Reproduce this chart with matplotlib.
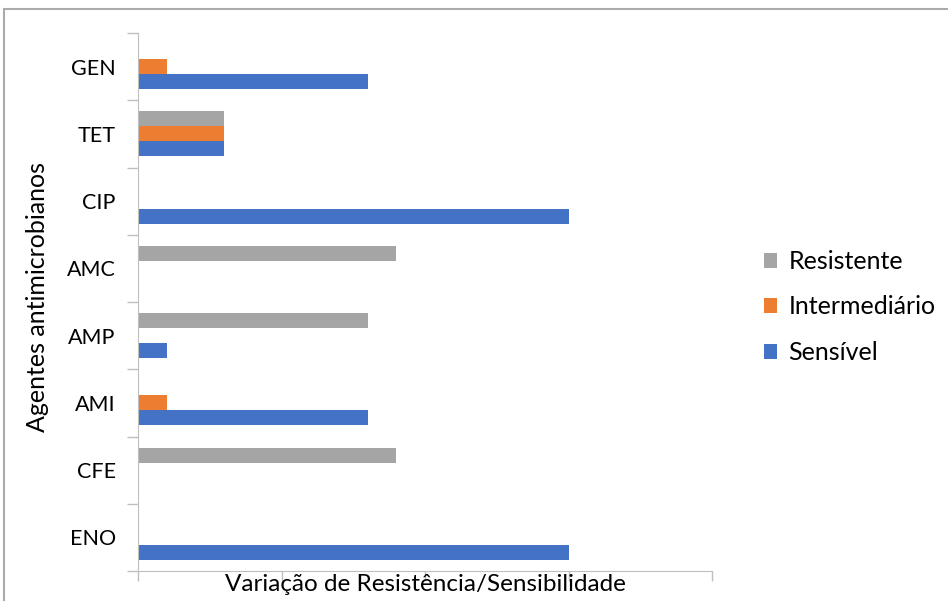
#!/usr/bin/env python

# Horizontal grouped bars: antimicrobial susceptibility per agent

import numpy as np
import matplotlib.pyplot as plt
from matplotlib.patches import Rectangle
from matplotlib.ticker import FixedLocator, NullFormatter

agents = ["ENO", "CFE", "AMI", "AMP", "AMC", "CIP", "TET", "GEN"]
sensivel = [15, 0, 8, 1, 0, 15, 3, 8]
intermediario = [0, 0, 1, 0, 0, 0, 3, 1]
resistente = [0, 9, 0, 8, 9, 0, 3, 0]

plt.rcParams['font.family'] = ['Lato', 'DejaVu Sans']

fig = plt.figure(figsize=(9.48, 6.01), dpi=100)
ax = fig.add_axes([138 / 948, 1 - 571 / 601, (712 - 138) / 948, (571 - 33) / 601])

y = np.arange(len(agents))
h = 0.224
ax.barh(y - h, sensivel, h, color="#4472C4", label="Sensível")
ax.barh(y, intermediario, h, color="#ED7D31", label="Intermediário")
ax.barh(y + h, resistente, h, color="#A5A5A5", label="Resistente")

ax.set_xlim(0, 20)
ax.set_ylim(-0.5, len(agents) - 0.5)

ax.set_xticks([0, 5, 10, 15, 20])
ax.xaxis.set_major_formatter(NullFormatter())
ax.tick_params(axis="x", length=7, width=1, color="#BFBFBF")

ax.set_yticks(y, agents)
ax.yaxis.set_minor_locator(FixedLocator(np.arange(-0.5, len(agents), 1)))
ax.tick_params(axis="y", which="major", length=0, pad=16, labelsize=15.5)
ax.tick_params(axis="y", which="minor", length=8, width=1, color="#BFBFBF")

for s in ["top", "right"]:
    ax.spines[s].set_visible(False)
for s in ["left", "bottom"]:
    ax.spines[s].set_color("#BFBFBF")

ax.set_xlabel("Variação de Resistência/Sensibilidade", fontsize=17.5)
ax.xaxis.set_label_coords(0.5, -0.006)
ax.set_ylabel("Agentes antimicrobianos", fontsize=18)
ax.yaxis.set_label_coords(-0.155, 0.51)

handles, labels = ax.get_legend_handles_labels()
fig.legend(handles[::-1], labels[::-1], loc="center left",
           bbox_to_anchor=(741 / 948, 1 - 307 / 601), frameon=False,
           fontsize=18, handlelength=0.55, handleheight=0.55,
           handletextpad=0.45, labelspacing=0.9)

# chart area border
fig.patches.append(Rectangle((4 / 948, -0.02), 1.0, 1 - 9 / 601 + 0.02,
                             transform=fig.transFigure, fill=False,
                             edgecolor="#ABABAB", linewidth=1.5))

fig.savefig("out.png", dpi=100)
